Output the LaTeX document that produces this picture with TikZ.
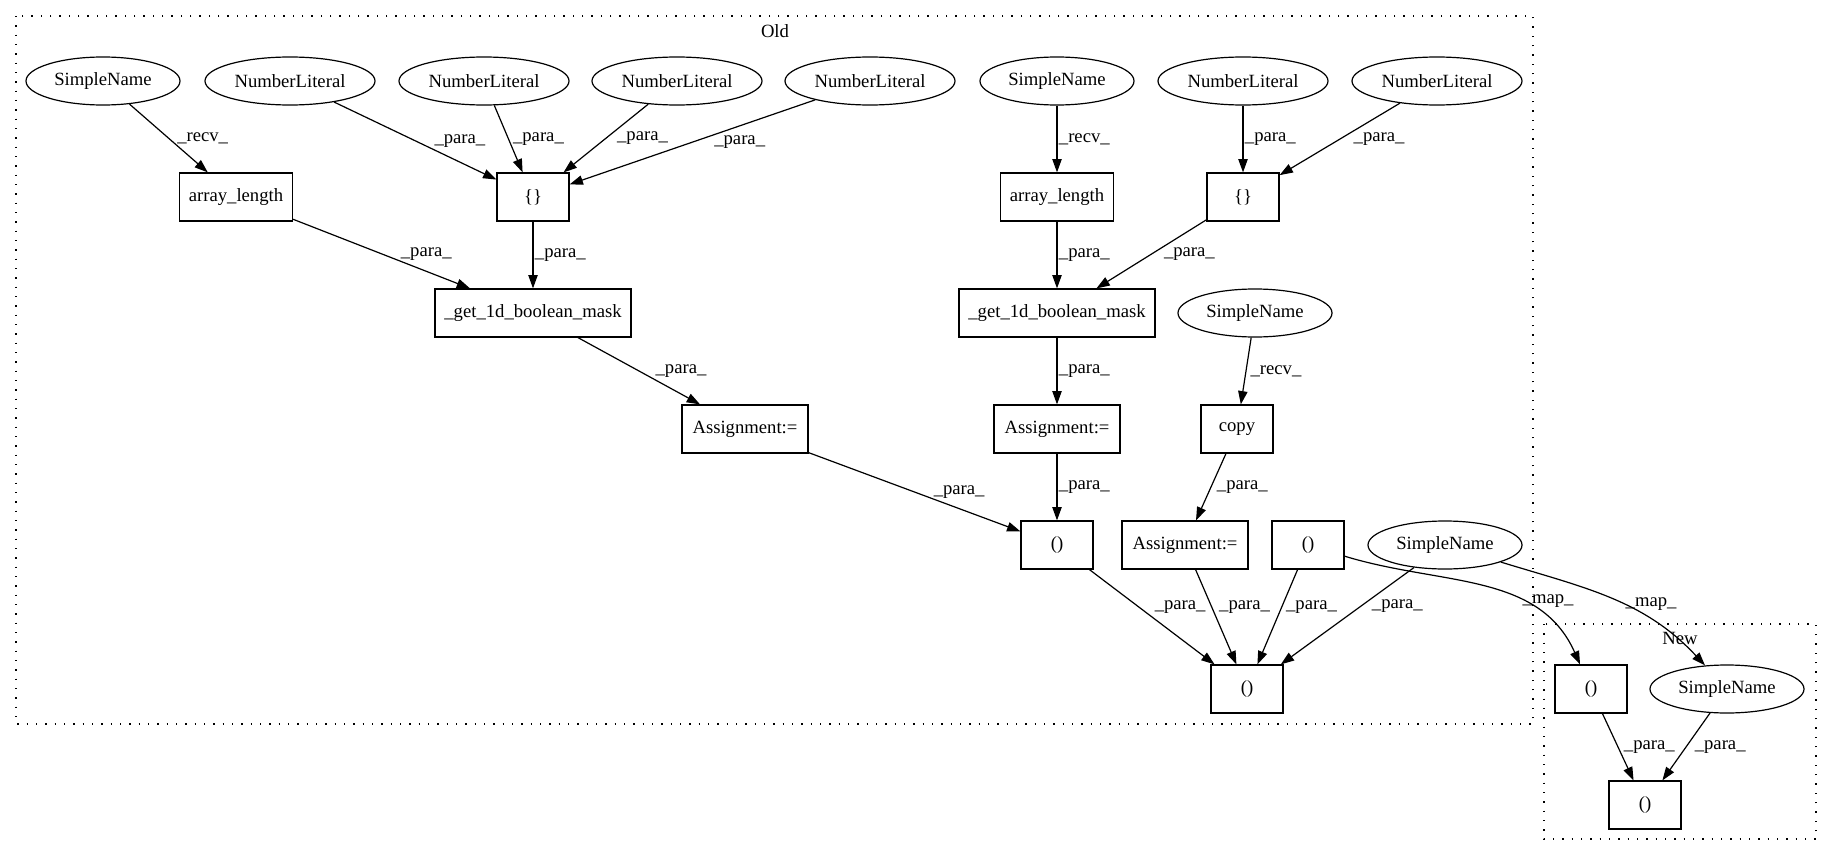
\documentclass[tikz,border=0pt]{standalone}
\usepackage{fontspec}
\setmainfont{Liberation Serif}
\usetikzlibrary{shapes.geometric, arrows.meta}

\begin{document}
\begin{tikzpicture}[x=0.75pt, y=-0.75pt,
    font=\fontsize{14pt}{16pt}\selectfont,
    astbox/.style={draw, rectangle, line width=0.9pt, minimum width=54pt, minimum height=36pt, inner sep=0pt},
    leaf/.style={draw, ellipse, line width=0.9pt, minimum height=36pt, inner sep=0pt},
    flow/.style={-{Triangle[length=10pt, width=7pt]}, line width=0.9pt},
    lbl/.style={midway, anchor=west, inner sep=1pt},
    cluster/.style={line width=0.9pt, dash pattern=on 1pt off 6pt}]
    \useasboundingbox (0,0) rectangle (1832,856);

    % Old
    \draw[cluster] (16,16) rectangle (1533,724);
    \node (oldlbl) at (775,31) {Old};

    \node[leaf, minimum width=115.5pt] (sn1) at (103,81) {SimpleName};
    \node[leaf, minimum width=127.5pt] (nl1) at (290,81) {NumberLiteral};
    \node[leaf, minimum width=127.5pt] (nl2) at (484,81) {NumberLiteral};
    \node[leaf, minimum width=127.5pt] (nl3) at (677,81) {NumberLiteral};
    \node[leaf, minimum width=127.5pt] (nl4) at (870,81) {NumberLiteral};
    \node[leaf, minimum width=115.5pt] (sn2) at (1057,81) {SimpleName};
    \node[leaf, minimum width=127.5pt] (nl5) at (1243,81) {NumberLiteral};
    \node[leaf, minimum width=127.5pt] (nl6) at (1437,81) {NumberLiteral};

    \node[astbox, minimum width=84.75pt] (al1) at (236,197) {array\_length};
    \node[astbox] (br1) at (533,197) {\{\}};
    \node[astbox, minimum width=84.75pt] (al2) at (1057,197) {array\_length};
    \node[astbox] (br2) at (1243,197) {\{\}};

    \node[astbox, minimum width=147pt] (gbm1) at (533,313) {\_get\_1d\_boolean\_mask};
    \node[astbox, minimum width=147pt] (gbm2) at (1057,313) {\_get\_1d\_boolean\_mask};
    \node[leaf, minimum width=115.5pt] (sn3) at (1255,313) {SimpleName};

    \node[astbox, minimum width=94.5pt] (as1) at (745,429) {Assignment:=};
    \node[astbox, minimum width=94.5pt] (as2) at (1057,429) {Assignment:=};
    \node[astbox] (copy) at (1237,429) {copy};

    \node[astbox] (par1) at (1057,545) {()};
    \node[astbox, minimum width=94.5pt] (as3) at (1185,545) {Assignment:=};
    \node[astbox] (par2) at (1308,545) {()};
    \node[leaf, minimum width=115.5pt] (sn4) at (1445,545) {SimpleName};

    \node[astbox] (par3) at (1247,689) {()};

    % New
    \draw[cluster] (1544,624) rectangle (1816,839);
    \node (newlbl) at (1680,638) {New};

    \node[astbox] (npar1) at (1591,689) {()};
    \node[leaf, minimum width=115.5pt] (nsn) at (1727,689) {SimpleName};
    \node[astbox] (npar2) at (1645,805) {()};

    % edges
    \draw[flow] (sn1) -- node[lbl, xshift=5pt] {\_recv\_} (al1);
    \draw[flow] (nl1) -- node[lbl, xshift=13pt] {\_para\_} (br1);
    \draw[flow] (nl2) -- node[lbl, xshift=2pt] {\_para\_} (br1);
    \draw[flow] (nl3) -- node[lbl, xshift=7pt] {\_para\_} (br1);
    \draw[flow] (nl4) -- node[lbl, xshift=15pt] {\_para\_} (br1);
    \draw[flow] (al1) -- node[lbl, xshift=13pt] {\_para\_} (gbm1);
    \draw[flow] (br1) -- node[lbl] {\_para\_} (gbm1);
    \draw[flow] (gbm1) -- node[lbl, xshift=11pt] {\_para\_} (as1);
    \draw[flow] (as1) -- node[lbl, xshift=13pt] {\_para\_} (par1);

    \draw[flow] (sn2) -- node[lbl] {\_recv\_} (al2);
    \draw[flow] (nl5) -- node[lbl] {\_para\_} (br2);
    \draw[flow] (nl6) -- node[lbl, xshift=9pt] {\_para\_} (br2);
    \draw[flow] (al2) -- node[lbl] {\_para\_} (gbm2);
    \draw[flow] (br2) -- node[lbl, xshift=8pt] {\_para\_} (gbm2);
    \draw[flow] (gbm2) -- node[lbl] {\_para\_} (as2);
    \draw[flow] (sn3) -- node[lbl, xshift=2pt] {\_recv\_} (copy);
    \draw[flow] (as2) -- node[lbl] {\_para\_} (par1);
    \draw[flow] (copy) -- node[lbl, xshift=3pt] {\_para\_} (as3);

    \draw[flow] (par1) -- node[lbl, pos=0.4, xshift=10pt] {\_para\_} (par3);
    \draw[flow] (as3) -- node[lbl, pos=0.4, xshift=4pt] {\_para\_} (par3);
    \draw[flow] (par2) -- node[lbl, pos=0.4, xshift=2pt] {\_para\_} (par3);
    \draw[flow] (sn4) -- node[lbl, pos=0.4, xshift=7pt] {\_para\_} (par3);

    \draw[flow] (par2) to[out=-17, in=114] node[lbl, pos=0.66] {\_map\_} (npar1);
    \draw[flow] (sn4) to[out=-17, in=133] node[lbl, pos=0.56] {\_map\_} (nsn);

    \draw[flow] (npar1) -- node[lbl, xshift=3pt] {\_para\_} (npar2);
    \draw[flow] (nsn) -- node[lbl, xshift=5pt] {\_para\_} (npar2);
\end{tikzpicture}
\end{document}
